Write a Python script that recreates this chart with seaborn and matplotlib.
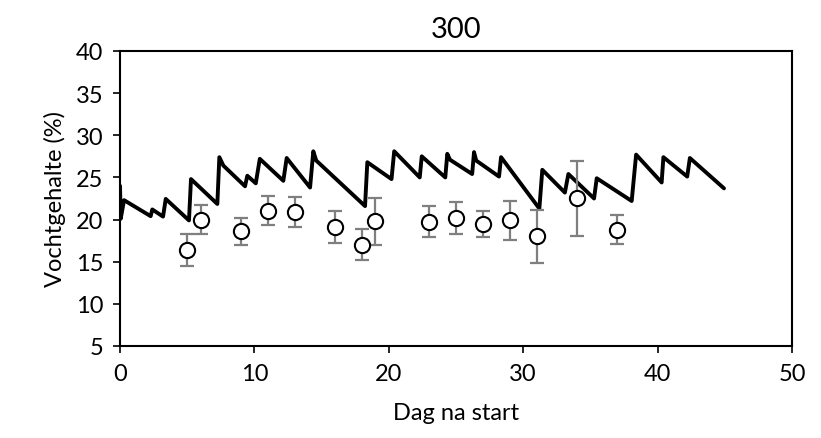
import matplotlib
matplotlib.use("Agg")
import matplotlib.pyplot as plt
import seaborn as sns
import pandas as pd

# Simulated moisture content (%) over time
sim_day = [0, 0.05, 0.3, 2.28, 2.4, 3.2, 3.4, 5.13, 5.28, 7.24, 7.39, 7.69,
           9.3, 9.47, 10.1, 10.4, 12.15, 12.4, 14.14, 14.38, 14.6, 18.23,
           18.4, 20.2, 20.4, 22.3, 22.45, 24.2, 24.35, 24.55, 26.2, 26.34,
           26.5, 28.2, 28.35, 31.2, 31.42, 33.1, 33.36, 35.27, 35.47, 38.07,
           38.4, 40.3, 40.43, 42.2, 42.4, 44.94]
sim_moist = [24.0, 20.1, 22.3, 20.4, 21.2, 20.35, 22.45, 19.9, 24.8, 21.85,
             27.4, 26.4, 23.95, 25.2, 24.3, 27.2, 24.6, 27.3, 23.8, 28.1,
             27.0, 21.6, 26.8, 24.8, 28.1, 25.0, 27.5, 25.0, 27.8, 27.1,
             25.4, 28.0, 27.0, 25.1, 27.4, 21.3, 25.9, 23.2, 25.4, 22.5,
             24.9, 22.2, 27.7, 24.4, 27.4, 25.1, 27.3, 23.7]

# Measured moisture content (%) with standard deviation
obs_day = [5, 6, 9, 11, 13, 16, 18, 19, 23, 25, 27, 29, 31, 34, 37]
obs_moist = [16.4, 20.0, 18.6, 21.05, 20.9, 19.1, 17.0, 19.8, 19.75, 20.15,
             19.5, 19.9, 18.0, 22.5, 18.8]
obs_sd = [1.9, 1.7, 1.6, 1.7, 1.8, 1.9, 1.85, 2.8, 1.85, 1.9, 1.55, 2.3,
          3.1, 4.4, 1.75]

x_ticks = [0, 10, 20, 30, 40, 50]
y_ticks = [5, 10, 15, 20, 25, 30, 35, 40]

sns.set_theme(style="white")
plt.rcParams["font.family"] = ["Lato", "DejaVu Sans"]

sim = pd.DataFrame({"day": sim_day, "moist": sim_moist})
obs = pd.DataFrame({"day": obs_day, "moist": obs_moist, "sd": obs_sd})

fig = plt.figure(figsize=(8.21, 4.39), dpi=100)
ax = fig.add_axes([0.1462, 0.2096, 0.8185, 0.672])

sns.lineplot(data=sim, x="day", y="moist", sort=False, color="black",
             linewidth=2.8, ax=ax, zorder=2)
ax.errorbar(obs["day"], obs["moist"], yerr=obs["sd"], fmt="none",
            ecolor="#7f7f7f", elinewidth=1.6, capsize=5, capthick=1.6,
            zorder=3)
sns.scatterplot(data=obs, x="day", y="moist", marker="o", s=120,
                facecolor="white", edgecolor="black", linewidth=1.5,
                ax=ax, zorder=4)

ax.set_xlim(0, 50)
ax.set_ylim(5, 40)
ax.set_xticks(x_ticks)
ax.set_yticks(y_ticks)
ax.tick_params(axis="both", direction="out", length=5, width=1.2,
               color="black", labelsize=17, labelcolor="black", bottom=True,
               left=True, pad=7)
for sp in ax.spines.values():
    sp.set_color("black")
    sp.set_linewidth(1.5)

ax.set_xlabel("Dag na start", fontsize=17, color="black", labelpad=13)
ax.set_ylabel("Vochtgehalte (%)", fontsize=17, color="black", labelpad=7)
ax.set_title("300", fontsize=21, color="black", pad=10)

fig.savefig("out.png", dpi=100, facecolor="white")
